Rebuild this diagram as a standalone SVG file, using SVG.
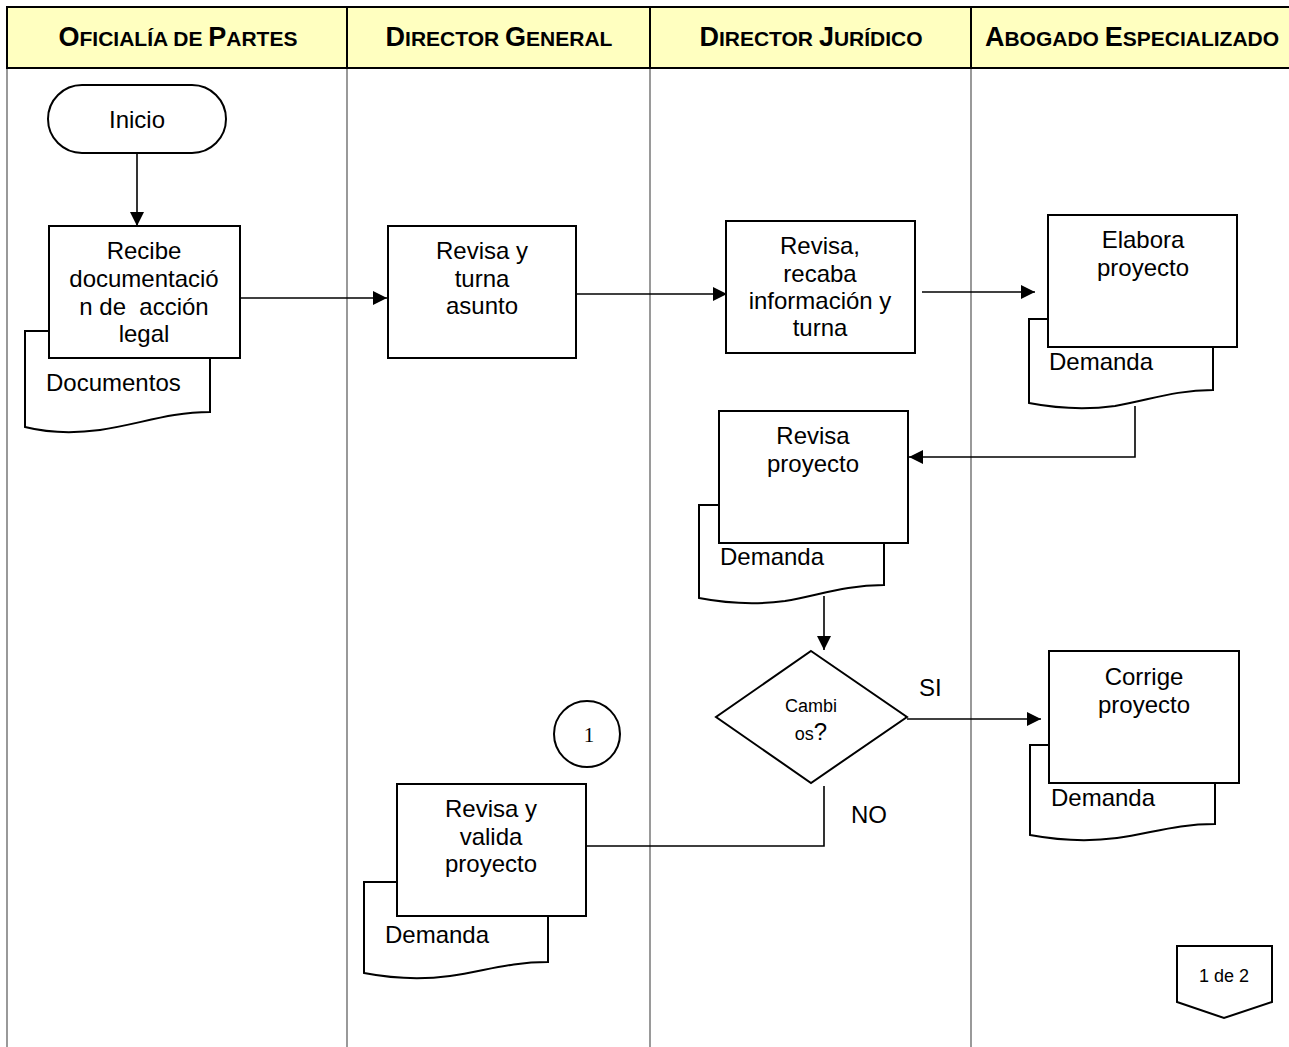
<svg xmlns="http://www.w3.org/2000/svg" width="1289" height="1047" viewBox="0 0 1289 1047">
<style>
.t{font-family:"Liberation Sans",Arial,sans-serif;font-size:24px;fill:#000;text-anchor:middle}
.tl{font-family:"Liberation Sans",Arial,sans-serif;font-size:24px;fill:#000}
.h{font-family:"Liberation Sans",Arial,sans-serif;font-weight:bold;font-size:21px;fill:#000;text-anchor:middle}
.hb{font-size:27px}
.s{fill:#fff;stroke:#000;stroke-width:2}
.c{fill:none;stroke:#000;stroke-width:1.6}
.lane{stroke:#808080;stroke-width:1.6}
</style>
<defs>
<marker id="ar" viewBox="0 0 14 14" refX="14" refY="7" markerWidth="14" markerHeight="14" markerUnits="userSpaceOnUse" orient="auto">
<path d="M0,0 L14,7 L0,14 Z" fill="#000"/>
</marker>
</defs>
<rect width="1289" height="1047" fill="#fff"/>
<g id="lanes">
<rect x="7" y="7" width="1290" height="61" fill="#FFFFC0" stroke="#000" stroke-width="2"/>
<line x1="347" y1="7" x2="347" y2="68" stroke="#000" stroke-width="2"/>
<line x1="650" y1="7" x2="650" y2="68" stroke="#000" stroke-width="2"/>
<line x1="971" y1="7" x2="971" y2="68" stroke="#000" stroke-width="2"/>
<line class="lane" x1="7" y1="69" x2="7" y2="1047"/>
<line class="lane" x1="347" y1="69" x2="347" y2="1047"/>
<line class="lane" x1="650" y1="69" x2="650" y2="1047"/>
<line class="lane" x1="971" y1="69" x2="971" y2="1047"/>
<text class="h" x="178" y="46"><tspan class="hb">O</tspan>FICIALÍA DE <tspan class="hb">P</tspan>ARTES</text>
<text class="h" x="499" y="46"><tspan class="hb">D</tspan>IRECTOR <tspan class="hb">G</tspan>ENERAL</text>
<text class="h" x="811" y="46"><tspan class="hb">D</tspan>IRECTOR <tspan class="hb">J</tspan>URÍDICO</text>
<text class="h" x="1132" y="46"><tspan class="hb">A</tspan>BOGADO <tspan class="hb">E</tspan>SPECIALIZADO</text>
</g>
<g id="connectors">
<line class="c" x1="137" y1="153" x2="137" y2="226" marker-end="url(#ar)"/>
<line class="c" x1="240" y1="298" x2="387" y2="298" marker-end="url(#ar)"/>
<line class="c" x1="576" y1="294" x2="727" y2="294" marker-end="url(#ar)"/>
<line class="c" x1="922" y1="292" x2="1035" y2="292" marker-end="url(#ar)"/>
<polyline class="c" points="1135,406 1135,457 909,457" marker-end="url(#ar)"/>
<line class="c" x1="824" y1="596" x2="824" y2="650" marker-end="url(#ar)"/>
<line class="c" x1="907" y1="719" x2="1041" y2="719" marker-end="url(#ar)"/>
<polyline class="c" points="824,786 824,846 584,846"/>
<text class="tl" x="919" y="696">SI</text>
<text class="tl" x="851" y="823">NO</text>
</g>
<g id="inicio">
<rect class="s" x="48" y="85" width="178" height="68" rx="34"/>
<text class="t" x="137" y="128">Inicio</text>
</g>
<g id="recibe">
<path class="s" d="M25,331 H210 V412 C170,412 140,424 100,430 C70,434 45,432 25,427 Z"/>
<text class="tl" x="46" y="391">Documentos</text>
<rect class="s" x="49" y="226" width="191" height="132"/>
<text class="t" x="144" y="259">Recibe</text>
<text class="t" x="144" y="287">documentació</text>
<text class="t" x="144" y="315" xml:space="preserve">n de  acción</text>
<text class="t" x="144" y="342">legal</text>
</g>
<g id="revisa-turna">
<rect class="s" x="388" y="226" width="188" height="132"/>
<text class="t" x="482" y="259">Revisa y</text>
<text class="t" x="482" y="287">turna</text>
<text class="t" x="482" y="314">asunto</text>
</g>
<g id="revisa-recaba">
<rect class="s" x="726" y="221" width="189" height="132"/>
<text class="t" x="820" y="254">Revisa,</text>
<text class="t" x="820" y="282">recaba</text>
<text class="t" x="820" y="309">información y</text>
<text class="t" x="820" y="336">turna</text>
</g>
<g id="elabora">
<path class="s" d="M1029,319 H1213 V390 C1175,390 1150,400 1115,406 C1085,410 1055,408 1029,403 Z"/>
<text class="tl" x="1049" y="370">Demanda</text>
<rect class="s" x="1048" y="215" width="189" height="132"/>
<text class="t" x="1143" y="248">Elabora</text>
<text class="t" x="1143" y="276">proyecto</text>
</g>
<g id="revisa-proyecto">
<path class="s" d="M699,505 H884 V585 C845,585 820,595 785,601 C755,605 725,603 699,598 Z"/>
<text class="tl" x="720" y="565">Demanda</text>
<rect class="s" x="719" y="411" width="189" height="132"/>
<text class="t" x="813" y="444">Revisa</text>
<text class="t" x="813" y="472">proyecto</text>
</g>
<g id="cambios">
<path class="s" d="M811,651 L907,717 L811,783 L716,717 Z"/>
<text class="t" x="811" y="712" style="font-size:18px">Cambi</text>
<text class="t" x="811" y="740"><tspan style="font-size:18px">os</tspan>?</text>
</g>
<g id="corrige">
<path class="s" d="M1030,745 H1215 V824 C1177,824 1152,833 1117,838 C1087,842 1057,840 1030,835 Z"/>
<text class="tl" x="1051" y="806">Demanda</text>
<rect class="s" x="1049" y="651" width="190" height="132"/>
<text class="t" x="1144" y="685">Corrige</text>
<text class="t" x="1144" y="713">proyecto</text>
</g>
<g id="conector-1">
<circle class="s" cx="587" cy="734" r="33" stroke-width="1.6"/>
<text x="589" y="742" style="font-family:'Liberation Serif','Times New Roman',serif;font-size:21px;text-anchor:middle">1</text>
</g>
<g id="revisa-valida">
<path class="s" d="M364,882 H548 V962 C510,962 485,971 450,976 C420,980 390,978 364,973 Z"/>
<text class="tl" x="385" y="943">Demanda</text>
<rect class="s" x="397" y="784" width="189" height="132"/>
<text class="t" x="491" y="817">Revisa y</text>
<text class="t" x="491" y="845">valida</text>
<text class="t" x="491" y="872">proyecto</text>
</g>
<g id="pagina">
<path class="s" d="M1177,946 H1272 V1002 L1224,1018 L1177,1002 Z"/>
<text class="t" x="1224" y="982" style="font-size:18px">1 de 2</text>
</g>
</svg>
